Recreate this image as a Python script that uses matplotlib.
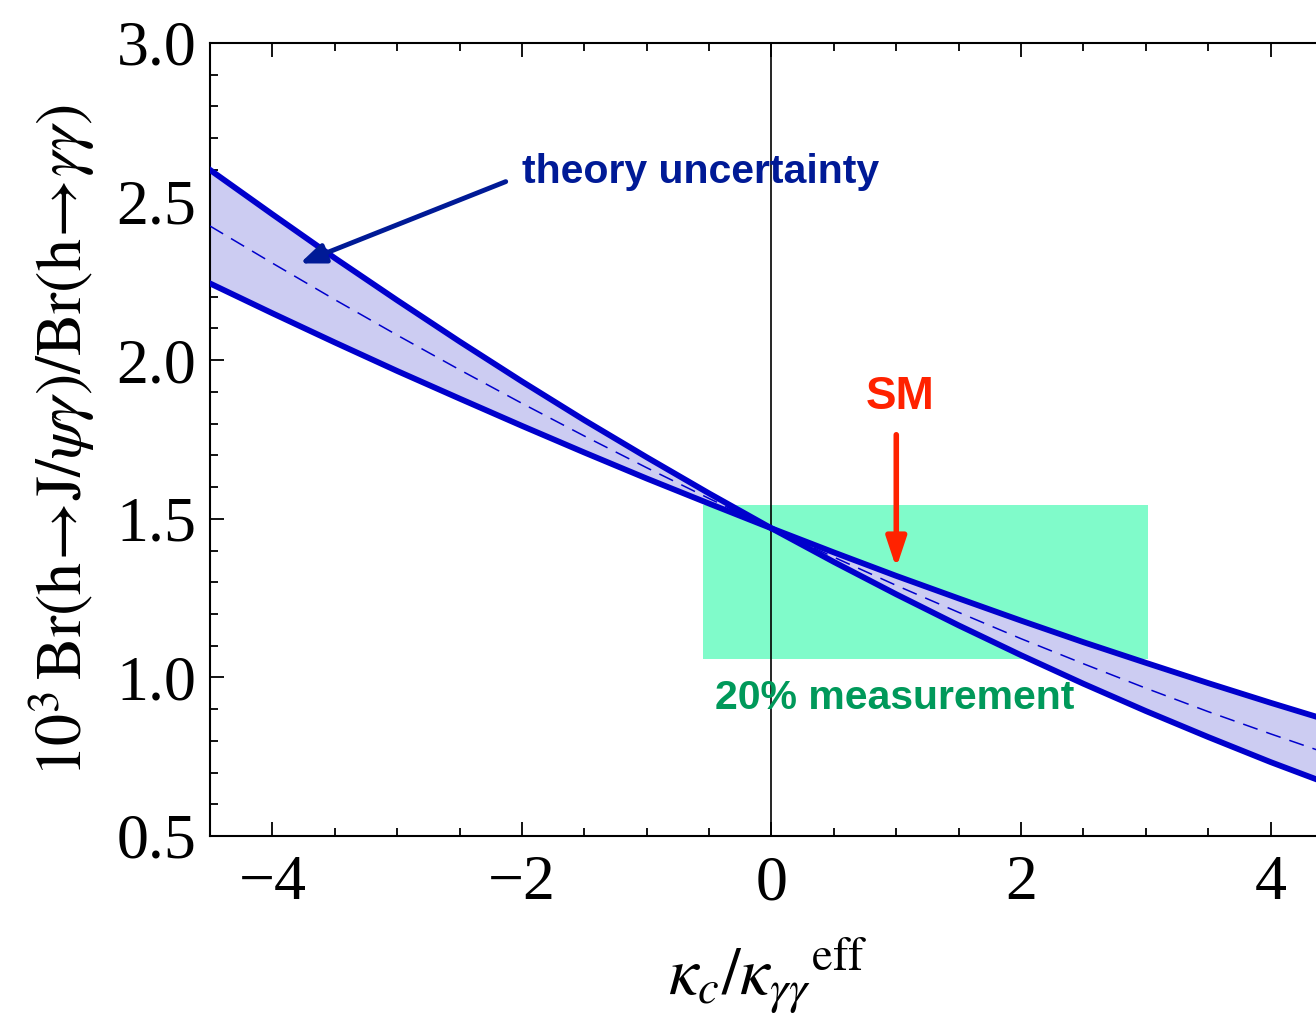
import matplotlib
matplotlib.use("Agg")
import matplotlib.pyplot as plt
from matplotlib.ticker import MultipleLocator, FormatStrFormatter

plt.rcParams["mathtext.fontset"] = "stix"
plt.rcParams["font.family"] = ["Liberation Serif", "DejaVu Serif"]

# Ratio of branching fractions vs kappa_c / kappa_gammagamma^eff
kappa = [-4.5, -4, -3.5, -3, -2.5, -2, -1.5, -1, -0.5, 0,
         0.5, 1, 1.5, 2, 2.5, 3, 3.5, 4, 4.5]
br_edge_a = [2.600, 2.460, 2.322, 2.189, 2.059, 1.933, 1.811, 1.694, 1.580, 1.470,
             1.364, 1.262, 1.164, 1.070, 0.980, 0.894, 0.812, 0.733, 0.659]
br_edge_b = [2.242, 2.148, 2.056, 1.966, 1.879, 1.793, 1.709, 1.627, 1.548, 1.470,
             1.394, 1.320, 1.249, 1.179, 1.111, 1.046, 0.982, 0.920, 0.860]
br_central = [2.423, 2.306, 2.191, 2.079, 1.970, 1.864, 1.761, 1.661, 1.564, 1.470,
              1.379, 1.290, 1.205, 1.122, 1.043, 0.966, 0.892, 0.822, 0.754]

# 20% measurement window around the SM point
meas_x = (-0.55, 3.02)
meas_y = (1.057, 1.543)
sm_kappa = 1.0

fig = plt.figure(figsize=(13.16, 10.15), dpi=100)
ax = fig.add_axes([210 / 1316, 179 / 1015, 1123 / 1316, 793 / 1015])

ax.axvspan(meas_x[0], meas_x[1], ymin=(meas_y[0] - 0.5) / 2.5,
           ymax=(meas_y[1] - 0.5) / 2.5, color="#80FBCA", lw=0, zorder=1)
ax.fill_between(kappa, br_edge_a, br_edge_b, color="#CCCCF2", lw=0, zorder=2)
ax.axvline(0, color="black", lw=1.2, zorder=3)
ax.plot(kappa, br_edge_a, color="#0000CC", lw=4.2, zorder=4)
ax.plot(kappa, br_edge_b, color="#0000CC", lw=4.2, zorder=4)
ax.plot(kappa, br_central, color="#0000CC", lw=1.1, ls=(0, (10, 6)), zorder=4)

ax.set_xlim(-4.5, 4.5)
ax.set_ylim(0.5, 3.0)
ax.xaxis.set_major_locator(MultipleLocator(2))
ax.xaxis.set_minor_locator(MultipleLocator(0.5))
ax.yaxis.set_major_locator(MultipleLocator(0.5))
ax.yaxis.set_minor_locator(MultipleLocator(0.1))
ax.yaxis.set_major_formatter(FormatStrFormatter("%.1f"))
ax.tick_params(which="both", direction="in", top=True, right=True, width=1.3,
               labelsize=46, colors="black")
ax.tick_params(which="major", length=10)
ax.tick_params(axis="y", which="major", pad=10)
ax.tick_params(axis="x", which="major", pad=14)
ax.tick_params(which="minor", length=6)
for s in ax.spines.values():
    s.set_linewidth(1.5)

# annotations
navy = "#001A96"
ax.annotate("", xy=(-3.78, 2.305), xytext=(-2.13, 2.563),
            arrowprops=dict(arrowstyle="-|>,head_length=1.5,head_width=0.6",
                            color=navy, lw=3.5, shrinkA=0, shrinkB=0), zorder=6)
ax.text(-2.0, 2.593, "theory uncertainty", color=navy, fontsize=29.5,
        family="Liberation Sans", weight="bold", va="center", ha="left", zorder=6)

ax.annotate("", xy=(sm_kappa, 1.345), xytext=(sm_kappa, 1.765),
            arrowprops=dict(arrowstyle="-|>,head_length=1.8,head_width=0.6",
                            color="#FF2200", lw=4, shrinkA=0, shrinkB=0), zorder=6)
ax.text(1.03, 1.885, "SM", color="#FF2200", fontsize=33,
        family="Liberation Sans", weight="bold", va="center", ha="center", zorder=6)

ax.text(-0.45, 0.935, "20% measurement", color="#00995A", fontsize=29.5,
        family="Liberation Sans", weight="bold", va="center", ha="left", zorder=6)

fig.text(62 / 1316, 1 - 440 / 1015,
         r"$10^3\,\mathrm{Br(h\!\rightarrow\! J}/\psi\gamma)/\mathrm{Br(h\!\rightarrow\!}\gamma\gamma)$",
         rotation=90, ha="center", va="center", fontsize=46)
fig.text(768 / 1316, 1 - 975 / 1015,
         r"$\kappa_c/\kappa_{\gamma\gamma}{}^{\mathrm{eff}}$",
         ha="center", va="center", fontsize=48)

fig.savefig("out.png", dpi=100)
